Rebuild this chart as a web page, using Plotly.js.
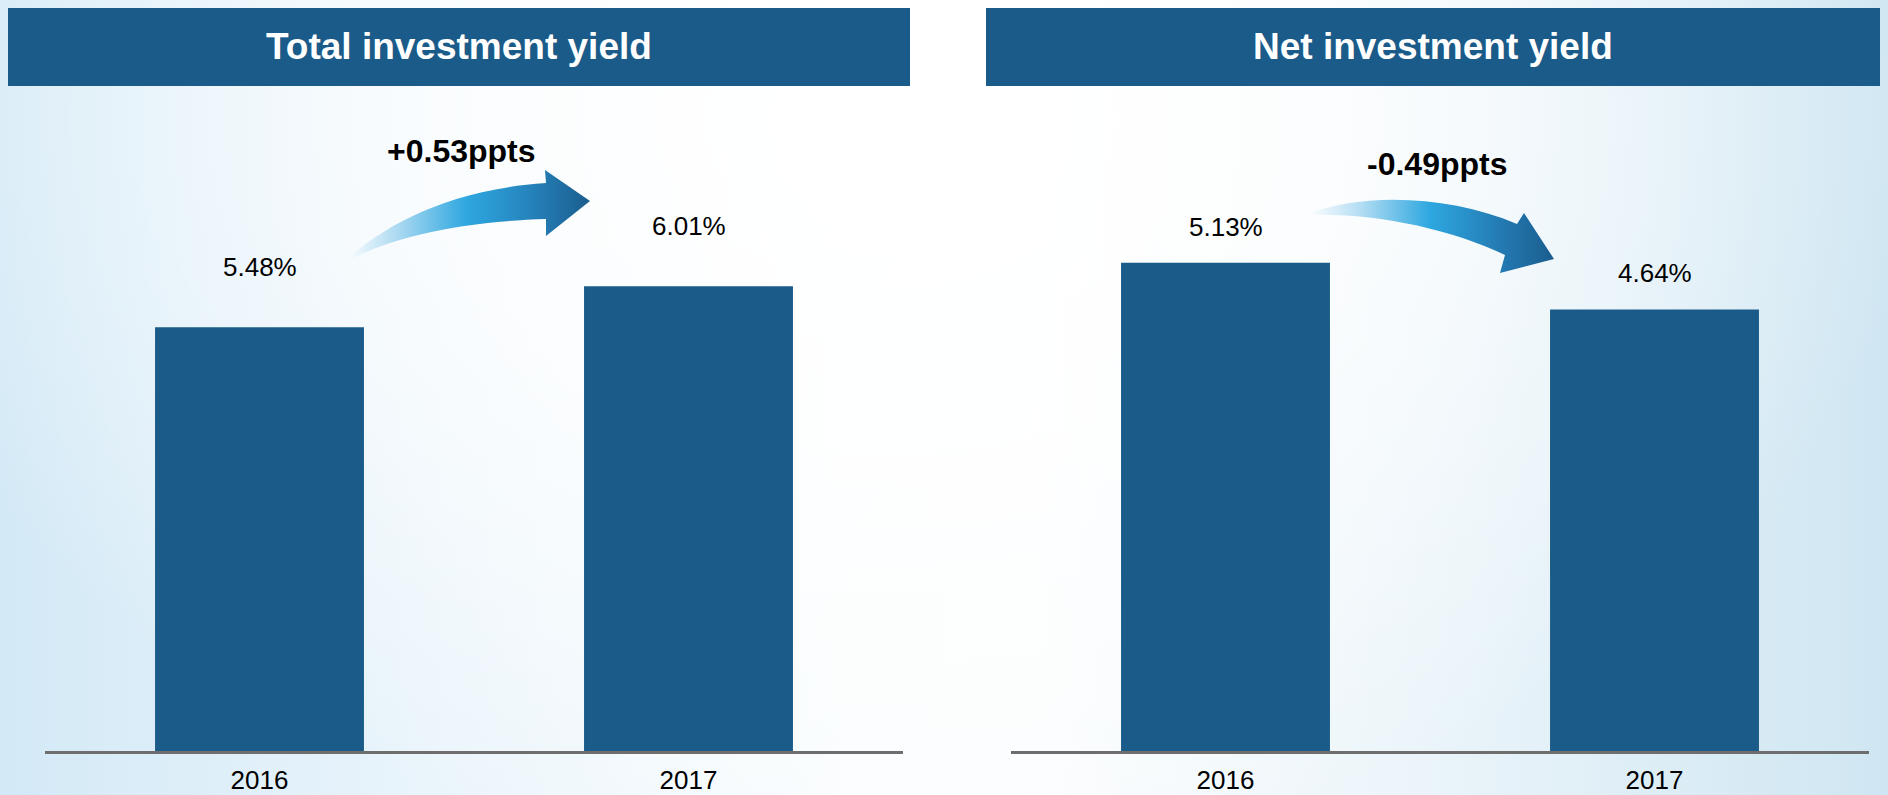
<!DOCTYPE html>
<html>
<head>
<meta charset="utf-8">
<script src="https://cdn.plot.ly/plotly-3.0.1.min.js"></script>
<style>
html, body { margin: 0; padding: 0; }
body {
  width: 1888px; height: 795px; overflow: hidden;
  background:
    radial-gradient(ellipse 55% 95% at 47% 15%, rgba(255,255,255,1) 0%, rgba(255,255,255,0.75) 45%, rgba(255,255,255,0) 100%),
    linear-gradient(to right, #d3e9f6 0%, #e9f4fb 22%, #fafdfe 45%, #fbfdfe 55%, #e8f3f9 78%, #cfe6f2 100%);
}
#chart { width: 1888px; height: 795px; }
</style>
</head>
<body>
<div id="chart"></div>
<script>
// ---- data ----
const categories = ['2016', '2017'];
const totalYield = [5.48, 6.01];
const netYield = [5.13, 4.64];
const panelTitles = ['Total investment yield', 'Net investment yield'];

// ---- helpers ----
const barColor = '#1a5b89';
const fontFam = 'Liberation Sans, Arial, Helvetica, sans-serif';
const W = 1888, H = 795;
const px = v => v / W;
const py = v => 1 - v / H;
function changeText(a) {
  const d = a[1] - a[0];
  return (d >= 0 ? '+' : '-') + Math.abs(d).toFixed(2) + 'ppts';
}

// ---- decorative gradient arrows (SVG overlay) ----
const svg =
'<svg xmlns="http://www.w3.org/2000/svg" width="1888" height="795" viewBox="0 0 1888 795">' +
'<defs>' +
'<linearGradient id="g1" gradientUnits="userSpaceOnUse" x1="343" y1="0" x2="590" y2="0">' +
'<stop offset="0" stop-color="#ffffff" stop-opacity="0.9"/>' +
'<stop offset="0.25" stop-color="#9fd4ef"/>' +
'<stop offset="0.5" stop-color="#2ea7e0"/>' +
'<stop offset="0.75" stop-color="#2684bd"/>' +
'<stop offset="1" stop-color="#1b5d8e"/>' +
'</linearGradient>' +
'<linearGradient id="g2" gradientUnits="userSpaceOnUse" x1="1306" y1="0" x2="1554" y2="0">' +
'<stop offset="0" stop-color="#ffffff" stop-opacity="0.9"/>' +
'<stop offset="0.22" stop-color="#b3ddf3"/>' +
'<stop offset="0.5" stop-color="#2ea7e0"/>' +
'<stop offset="0.8" stop-color="#2378b0"/>' +
'<stop offset="1" stop-color="#1b5d8e"/>' +
'</linearGradient>' +
'</defs>' +
'<path fill="url(#g1)" d="M343,263 C375,232 440,190 546,183 L545,170 L590,201 L546,236 L546,219 C450,222 385,240 343,263 Z"/>' +
'<path fill="url(#g2)" d="M1306,215 C1360,192 1450,195 1517,224 L1524,213 L1554,259 L1500,273 L1505,255 C1450,228 1370,212 1306,215 Z"/>' +
'</svg>';
const svgURI = 'data:image/svg+xml;charset=utf-8,' + encodeURIComponent(svg);

// ---- traces ----
const traces = [
  { type: 'bar', x: categories, y: totalYield, xaxis: 'x', yaxis: 'y',
    marker: { color: barColor }, hoverinfo: 'none' },
  { type: 'bar', x: categories, y: netYield, xaxis: 'x2', yaxis: 'y2',
    marker: { color: barColor }, hoverinfo: 'none' }
];

// ---- annotations (category index positions) ----
const annotations = [];
categories.forEach((c, i) => {
  annotations.push({ xref: 'x', yref: 'y', x: i, y: totalYield[i], text: totalYield[i].toFixed(2) + '%',
    showarrow: false, yanchor: 'bottom', yshift: 43, font: { family: fontFam, size: 26, color: '#000' } });
  annotations.push({ xref: 'x2', yref: 'y2', x: i, y: netYield[i], text: netYield[i].toFixed(2) + '%',
    showarrow: false, yanchor: 'bottom', yshift: 19, font: { family: fontFam, size: 26, color: '#000' } });
});
annotations.push({ xref: 'paper', yref: 'paper', x: px(461), y: py(151), text: '<b>' + changeText(totalYield) + '</b>',
  showarrow: false, xanchor: 'center', yanchor: 'middle', font: { family: fontFam, size: 32, color: '#000' } });
annotations.push({ xref: 'paper', yref: 'paper', x: px(1437), y: py(164), text: '<b>' + changeText(netYield) + '</b>',
  showarrow: false, xanchor: 'center', yanchor: 'middle', font: { family: fontFam, size: 32, color: '#000' } });
annotations.push({ xref: 'paper', yref: 'paper', x: px(459), y: py(47), text: '<b>' + panelTitles[0] + '</b>',
  showarrow: false, xanchor: 'center', yanchor: 'middle', font: { family: fontFam, size: 37, color: '#fff' } });
annotations.push({ xref: 'paper', yref: 'paper', x: px(1433), y: py(47), text: '<b>' + panelTitles[1] + '</b>',
  showarrow: false, xanchor: 'center', yanchor: 'middle', font: { family: fontFam, size: 37, color: '#fff' } });

// ---- header banners ----
const shapes = [
  { type: 'rect', xref: 'paper', yref: 'paper', x0: px(8), x1: px(910), y0: py(86), y1: py(8),
    fillcolor: barColor, line: { width: 0 }, layer: 'below' },
  { type: 'rect', xref: 'paper', yref: 'paper', x0: px(986), x1: px(1880), y0: py(86), y1: py(8),
    fillcolor: barColor, line: { width: 0 }, layer: 'below' }
];

function xAxis(domain, anchor) {
  return {
    type: 'category', range: [-0.5, 1.5], autorange: false, domain: domain, anchor: anchor,
    showline: true, linecolor: '#6e6e6e', linewidth: 3,
    ticks: '', ticklabelstandoff: 4,
    tickfont: { family: fontFam, size: 26, color: '#000' },
    showgrid: false, zeroline: false, fixedrange: true
  };
}
function yAxis(range, anchor) {
  return { visible: false, showgrid: false, zeroline: false, fixedrange: true,
    domain: [py(751), py(100)], range: range, autorange: false, anchor: anchor };
}

const layout = {
  width: W, height: H,
  margin: { l: 0, r: 0, t: 0, b: 0 },
  paper_bgcolor: 'rgba(0,0,0,0)', plot_bgcolor: 'rgba(0,0,0,0)',
  showlegend: false, bargap: 0.513,
  xaxis: xAxis([px(45), px(903)], 'y'),
  xaxis2: xAxis([px(1011), px(1869)], 'y2'),
  yaxis: yAxis([0, 8.42], 'x'),
  yaxis2: yAxis([0, 6.84], 'x2'),
  annotations: annotations,
  shapes: shapes,
  images: [{ source: svgURI, xref: 'paper', yref: 'paper', x: 0, y: 1, sizex: 1, sizey: 1,
    xanchor: 'left', yanchor: 'top', sizing: 'stretch', layer: 'above' }]
};

Plotly.newPlot('chart', traces, layout, { displayModeBar: false, staticPlot: true });
</script>
</body>
</html>
